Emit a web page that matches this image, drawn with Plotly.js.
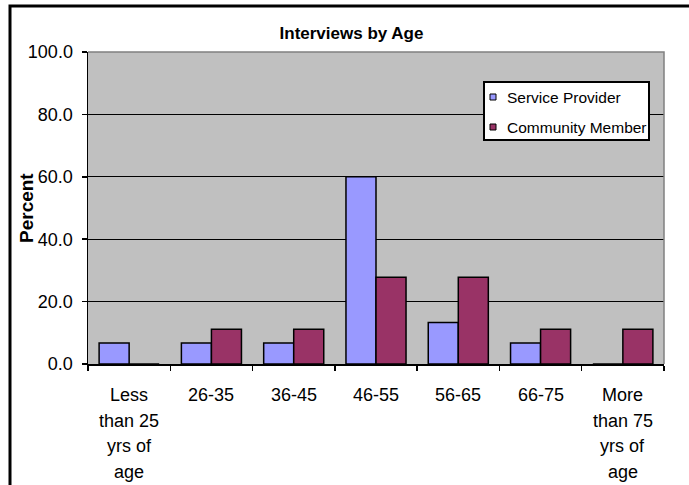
<!DOCTYPE html>
<html>
<head>
<meta charset="utf-8">
<script src="https://cdn.plot.ly/plotly-3.0.1.min.js"></script>
<style>
  html, body { margin: 0; padding: 0; background: #ffffff; }
  #chart { width: 689px; height: 485px; }
</style>
</head>
<body>
<div id="chart"></div>
<script>
// Age bands (lines separated with <br>)
const ageGroups = [
  "Less<br>than 25<br>yrs of<br>age",
  "26-35",
  "36-45",
  "46-55",
  "56-65",
  "66-75",
  "More<br>than 75<br>yrs of<br>age"
];

// Percent of interviews in each age band
const seriesNames = ["Service Provider", "Community Member"];
const serviceProvider = [6.7, 6.7, 6.7, 60.0, 13.3, 6.7, 0.0];
const communityMember = [0.0, 11.1, 11.1, 27.8, 27.8, 11.1, 11.1];
const seriesColors = ["#9999FF", "#993366"];

const yTickVals = [0, 20, 40, 60, 80, 100];

// Plot-area geometry in pixels
const W = 689, H = 485;
const M = { l: 88, r: 25, t: 52, b: 121 };
const PW = W - M.l - M.r, PH = H - M.t - M.b;
const px = v => (v - M.l) / PW;          // page x -> paper x
const py = v => (H - M.b - v) / PH;      // page y -> paper y

const FONT = '"Liberation Sans", Arial, sans-serif';
const idx = ageGroups.map((_, i) => i);

const traces = [serviceProvider, communityMember].map((vals, k) => ({
  type: "bar",
  name: seriesNames[k],
  x: idx,
  y: vals,
  marker: { color: seriesColors[k], line: { color: "#000000", width: 1.5 } },
  showlegend: false,
  hoverinfo: "x+y+name"
}));

// Multi-line category labels under the axis
const annotations = [];
ageGroups.forEach((label, i) => {
  label.split("<br>").forEach((line, j) => {
    annotations.push({
      xref: "x", yref: "paper", x: i, y: 0,
      xanchor: "center", yanchor: "top",
      yshift: -(19 + j * 25.7),
      text: line, showarrow: false,
      font: { family: FONT, size: 18, color: "#000000" }
    });
  });
});

// Y-axis title
annotations.push({
  xref: "paper", yref: "paper", x: px(26), y: 0.5,
  xanchor: "center", yanchor: "middle",
  textangle: -90, text: "<b>Percent</b>", showarrow: false,
  font: { family: FONT, size: 19, color: "#000000" }
});

// Legend entries
const shapes = [];
const legTop = [97, 127];
seriesNames.forEach((name, k) => {
  annotations.push({
    xref: "paper", yref: "paper", x: px(505), y: py(legTop[k]),
    xanchor: "left", yanchor: "middle",
    text: name, showarrow: false,
    font: { family: FONT, size: 15.5, color: "#000000" }
  });
});

// Outer chart frame (runs off the right and bottom edges)
shapes.push({
  type: "rect", xref: "paper", yref: "paper",
  x0: px(10), x1: px(700), y0: py(500), y1: py(6),
  line: { color: "#000000", width: 3 }, layer: "above"
});
// Grey top/right edge of the plot area
shapes.push({
  type: "path", xref: "paper", yref: "paper",
  path: "M0,1 L1,1 L1,0",
  line: { color: "#808080", width: 1.5 }, layer: "above"
});
// Legend box
shapes.push({
  type: "rect", xref: "paper", yref: "paper",
  x0: px(484), x1: px(649), y0: py(140), y1: py(82),
  fillcolor: "#FFFFFF", line: { color: "#000000", width: 2 }, layer: "above"
});
seriesNames.forEach((name, k) => {
  shapes.push({
    type: "rect", xref: "paper", yref: "paper",
    x0: px(490), x1: px(496), y0: py(legTop[k] + 3), y1: py(legTop[k] - 3),
    fillcolor: seriesColors[k], line: { color: "#000000", width: 1 }, layer: "above"
  });
});

const layout = {
  width: W, height: H,
  margin: M,
  paper_bgcolor: "#FFFFFF",
  plot_bgcolor: "#C0C0C0",
  font: { family: FONT, size: 18, color: "#000000" },
  title: {
    text: "<b>Interviews by Age</b>",
    font: { family: FONT, size: 17, color: "#000000" },
    xref: "container", yref: "container",
    x: 351.5 / W, y: 1 - 33 / H, xanchor: "center", yanchor: "middle"
  },
  barmode: "group",
  bargap: 0.27,
  bargroupgap: 0,
  showlegend: false,
  xaxis: {
    type: "linear",
    range: [-0.5, ageGroups.length - 0.5],
    tickvals: idx.concat([ageGroups.length]).map(i => i - 0.5),
    showticklabels: false,
    ticks: "outside", ticklen: 5, tickwidth: 1.5, tickcolor: "#000000",
    showgrid: false, zeroline: false,
    showline: true, linecolor: "#000000", linewidth: 1.5,
    fixedrange: true
  },
  yaxis: {
    range: [0, 100],
    tickvals: yTickVals,
    tickformat: ".1f",
    ticks: "outside", ticklen: 5, tickwidth: 1.5, tickcolor: "#000000",
    ticklabelstandoff: 5,
    tickfont: { family: FONT, size: 18, color: "#000000" },
    showgrid: true, gridcolor: "#000000", gridwidth: 1,
    zeroline: false,
    showline: true, linecolor: "#000000", linewidth: 1.5,
    fixedrange: true
  },
  annotations: annotations,
  shapes: shapes
};

Plotly.newPlot("chart", traces, layout, { displayModeBar: false, staticPlot: true });
</script>
</body>
</html>
